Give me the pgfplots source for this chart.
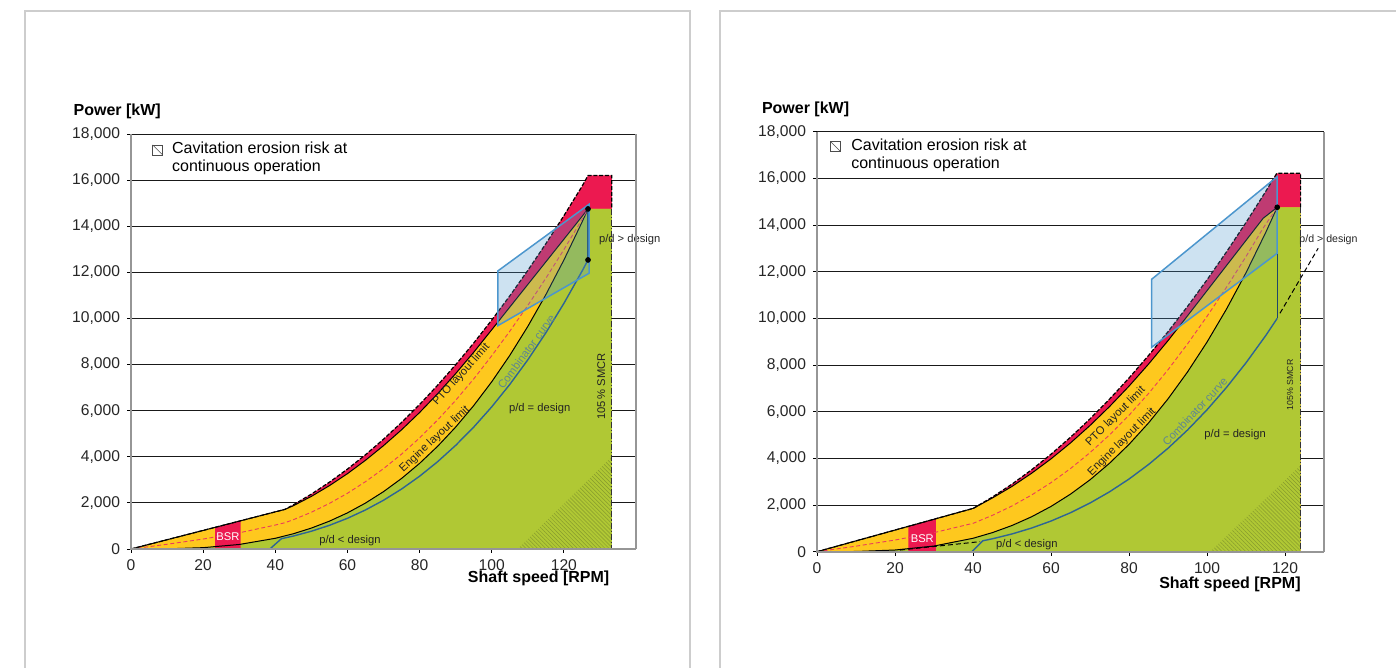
\documentclass[border=0pt]{standalone}
\usepackage{fontspec}
\setmainfont{Liberation Sans}
\usepackage{pgfplots}
\pgfplotsset{compat=1.18}
\usetikzlibrary{patterns.meta}

\definecolor{redc}{RGB}{236,25,80}
\definecolor{yellowc}{RGB}{254,200,30}
\definecolor{greenc}{RGB}{176,200,52}
\definecolor{boxblue}{RGB}{76,150,205}
\definecolor{combblue}{RGB}{45,100,150}
\definecolor{combtext}{RGB}{95,135,145}
\definecolor{hatchc}{RGB}{135,155,45}
\definecolor{framegray}{RGB}{205,205,205}
\definecolor{axisgray}{RGB}{150,150,150}
\definecolor{ptored}{RGB}{235,60,90}
\definecolor{txt}{RGB}{35,35,35}

\tikzset{lbl/.style={font=\fontsize{5.6}{6.5}\selectfont, text=txt}}

\pgfplotsset{
  layoutdiagram/.style={
    scale only axis, clip=false,
    ymin=0, ymax=18000,
    ytick={0,2000,...,18000},
    xtick={0,20,...,120},
    axis line style={draw=none},
    tick pos=left, tick align=outside,
    major tick length=2pt,
    tick style={black, line width=0.45pt},
    ymajorgrids,
    major grid style={black!90, line width=0.45pt},
    scaled y ticks=false,
    /pgf/number format/.cd, 1000 sep={,}, assume math mode=true,
    /pgfplots/.cd,
    tick label style={font=\fontsize{7.8}{9}\selectfont, text=black!85},
  },
  area/.style={draw=none, fill=#1},
  limitline/.style={black, line width=0.5pt},
  topline/.style={black, line width=0.6pt, dash pattern=on 2pt off 0.9pt},
  ptoline/.style={ptored, line width=0.45pt, dash pattern=on 2pt off 1.3pt},
  combline/.style={combblue, line width=0.7pt},
  hatch/.style={draw=none, pattern={Lines[angle=-45,distance=1.4pt,line width=0.25pt]}, pattern color=hatchc},
}

\begin{document}
\begin{tikzpicture}
\path[use as bounding box] (0,0) rectangle (698pt,334pt);
% panel frames
\draw[framegray, line width=1pt] (12.5pt,0) -- (12.5pt,328.5pt) -- (345pt,328.5pt) -- (345pt,0);
\draw[framegray, line width=1pt] (360pt,0) -- (360pt,328.5pt) -- (698pt,328.5pt);

% ---------------- left diagram ----------------
\begin{axis}[layoutdiagram, at={(65.5pt,59.5pt)}, anchor=south west,
  width=252.5pt, height=207.5pt, xmin=0, xmax=140]
% light running margin (red)
\addplot[area=redc] coordinates {(0,0) (42.7,1720) (45,1916) (50,2381) (55,2897) (60,3466) (65,4087) (70,4762) (75,5489) (80,6269) (85,7103) (90,7991) (95,8932) (100,9928) (105,10977) (110,12081) (115,13239) (120,14454) (125,15721) (126.7,16200) (133.3,16200) (133.3,0)} -- cycle;
% engine layout area (yellow)
\addplot[area=yellowc] coordinates {(0,0) (42.7,1720) (45,1876) (50,2281) (55,2747) (60,3266) (65,3847) (70,4482) (75,5169) (80,5919) (85,6733) (90,7606) (95,8532) (100,9508) (126.7,14750) (133.3,14750) (133.3,0)} -- cycle;
% propeller area (green)
\addplot[area=greenc] coordinates {(0,0) (10,7) (20,58) (30,196) (40,464) (45,661) (50,907) (55,1207) (60,1566) (65,1992) (70,2487) (75,3059) (80,3713) (85,4454) (90,5287) (95,6218) (100,7252) (105,8395) (110,9652) (115,11030) (120,12532) (125,14164) (126.7,14750) (133.3,14750) (133.3,0)} -- cycle;
% cavitation erosion risk
\addplot[hatch] coordinates {(107.2,0) (133.3,0) (133.3,4000)} -- cycle;
% barred speed range
\addplot[area=redc] coordinates {(23.3,0) (23.3,938) (30.4,1225) (30.4,0)} -- cycle;
% limit lines
\addplot[limitline] coordinates {(0,0) (42.7,1720) (45,1876) (50,2281) (55,2747) (60,3266) (65,3847) (70,4482) (75,5169) (80,5919) (85,6733) (90,7606) (95,8532) (100,9508) (126.7,14750)};
\addplot[limitline] coordinates {(0,0) (10,7) (20,58) (30,196) (40,464) (45,661) (50,907) (55,1207) (60,1566) (65,1992) (70,2487) (75,3059) (80,3713) (85,4454) (90,5287) (95,6218) (100,7252) (105,8395) (110,9652) (115,11030) (120,12532) (125,14164) (126.7,14750)};
\addplot[ptoline] coordinates {(0,0) (10,205) (20,432) (30,702) (40,1038) (42.7,1142) (45,1269) (50,1594) (55,1977) (60,2416) (65,2920) (70,3485) (75,4114) (80,4816) (85,5594) (90,6447) (95,7375) (100,8380) (105,9443) (110,10562) (115,11742) (120,12983) (125,14290) (126.7,14750)};
\addplot[combline] coordinates {(38.5,0) (41.7,447) (45,562) (50,771) (55,1026) (60,1331) (65,1693) (70,2114) (75,2600) (80,3156) (85,3786) (90,4494) (95,5285) (100,6164) (105,7136) (110,8204) (115,9375) (120,10651) (125,12039) (126.7,12537)};
\addplot[combblue!70!black, line width=0.7pt] coordinates {(126.7,12537) (126.7,14750)};
\addplot[topline] coordinates {(0,0) (42.7,1720) (45,1916) (50,2381) (55,2897) (60,3466) (65,4087) (70,4762) (75,5489) (80,6269) (85,7103) (90,7991) (95,8932) (100,9928) (105,10977) (110,12081) (115,13239) (120,14454) (125,15721) (126.7,16200) (133.3,16200) (133.3,14750)};
\addplot[black!80, line width=0.5pt, dash pattern=on 3pt off 1pt on 0.6pt off 1pt] coordinates {(133.3,14750) (133.3,0)};
% propeller operating window
\addplot[draw=boxblue, line width=0.75pt, fill=boxblue, fill opacity=0.28] coordinates {(101.7,9687) (101.7,12060) (127,14952) (127,11960)} -- cycle;
\addplot[only marks, mark=*, mark size=1.2pt, black] coordinates {(126.7,14750) (126.7,12537)};
% labels
\node[lbl, text=white] at (axis cs:26.85,540) {BSR};
\node[lbl] at (axis cs:60.7,380) {p/d < design};
\node[lbl] at (axis cs:113.3,6100) {p/d = design};
\node[lbl, anchor=west] at (axis cs:127.8,13435) {p/d > design};
\node[lbl, rotate=90] at (axis cs:130.4,7040) {105\,\% SMCR};
\node[lbl, rotate=48] at (axis cs:91.6,7560) {PTO layout limit};
\node[lbl, rotate=43] at (axis cs:84.2,4760) {Engine layout limit};
\node[lbl, rotate=53.6, text=combtext] at (axis cs:109.6,8560) {Combinator curve};
% legend
\draw[black!70, line width=0.4pt] (axis cs:6,17092) rectangle (axis cs:8.8,17526);
\draw[black!70, line width=0.3pt] (axis cs:6,17526) -- (axis cs:8.8,17092);
\node[anchor=west, align=left, font=\fontsize{8}{9}\selectfont, inner sep=0pt] at (axis cs:11.3,16950) {Cavitation erosion risk at\\continuous operation};
% titles
\node[anchor=west, font=\fontsize{8}{9}\selectfont\bfseries, inner sep=0pt] at (axis cs:-16,18970) {Power [kW]};
\node[anchor=east, font=\fontsize{8}{9}\selectfont\bfseries, inner sep=0pt] at (axis cs:132.7,-1271) {Shaft speed [RPM]};
% frame lines
\draw[axisgray, line width=1pt] (axis cs:0,18000) -- (axis cs:0,0) -- (axis cs:140,0);
\draw[axisgray, line width=0.6pt] (axis cs:140,0) -- (axis cs:140,18000);
\end{axis}

% ---------------- right diagram ----------------
\begin{axis}[layoutdiagram, at={(408.5pt,58.15pt)}, anchor=south west,
  width=253.5pt, height=210pt, xmin=0, xmax=130]
\addplot[area=redc] coordinates {(0,0) (40.1,1860) (45,2345) (50,2897) (55,3508) (60,4178) (65,4906) (70,5693) (75,6539) (80,7444) (85,8408) (90,9430) (95,10511) (100,11653) (105,12851) (110,14109) (115,15427) (117.9,16218) (124,16218) (124,0)} -- cycle;
\addplot[area=yellowc] coordinates {(0,0) (40.1,1860) (45,2305) (50,2797) (55,3358) (60,3978) (65,4661) (70,5408) (75,6219) (80,7094) (85,8038) (90,9045) (94.4,9979) (114.4,14290) (118,14760) (124,14760) (124,0)} -- cycle;
\addplot[area=greenc] coordinates {(0,0) (10,9) (20,72) (30,243) (40,575) (45,819) (50,1123) (55,1495) (60,1940) (65,2467) (70,3081) (75,3790) (80,4599) (85,5517) (90,6549) (95,7702) (100,8983) (105,10399) (110,11956) (115,13662) (118,14760) (124,14760) (124,0)} -- cycle;
\addplot[hatch] coordinates {(100.8,0) (124,0) (124,3700)} -- cycle;
\addplot[area=redc] coordinates {(23.4,0) (23.4,1085) (30.5,1415) (30.5,0)} -- cycle;
\addplot[limitline] coordinates {(0,0) (40.1,1860) (45,2305) (50,2797) (55,3358) (60,3978) (65,4661) (70,5408) (75,6219) (80,7094) (85,8038) (90,9045) (94.4,9979) (114.4,14290) (118,14760)};
\addplot[limitline] coordinates {(0,0) (10,9) (20,72) (30,243) (40,575) (45,819) (50,1123) (55,1495) (60,1940) (65,2467) (70,3081) (75,3790) (80,4599) (85,5517) (90,6549) (95,7702) (100,8983) (105,10399) (110,11956) (115,13662) (118,14760)};
\addplot[ptoline] coordinates {(0,0) (10,237) (20,500) (30,817) (40.1,1220) (45,1562) (50,1960) (55,2427) (60,2959) (65,3564) (70,4245) (75,5005) (80,5847) (85,6778) (90,7797) (95,8905) (100,10085) (105,11332) (110,12649) (114.4,13870) (118,14760)};
\addplot[combline] coordinates {(39.7,0) (42.5,467) (45,554) (50,760) (55,1012) (60,1314) (65,1670) (70,2086) (75,2566) (80,3114) (85,3735) (90,4434) (95,5215) (100,6082) (105,7041) (110,8095) (115,9250) (118,10000)};
\addplot[combblue!70!black, line width=0.7pt] coordinates {(118,10000) (118,14760)};
\addplot[black, line width=0.5pt, dash pattern=on 2.5pt off 1.5pt] coordinates {(21.3,70) (41.8,430)};
\addplot[black, line width=0.5pt, dash pattern=on 2.5pt off 1.5pt] coordinates {(118.7,10217) (128.5,13003)};
\addplot[topline] coordinates {(0,0) (40.1,1860) (45,2345) (50,2897) (55,3508) (60,4178) (65,4906) (70,5693) (75,6539) (80,7444) (85,8408) (90,9430) (95,10511) (100,11653) (105,12851) (110,14109) (115,15427) (117.9,16218) (124,16218) (124,14760)};
\addplot[black!80, line width=0.5pt, dash pattern=on 3pt off 1pt on 0.6pt off 1pt] coordinates {(124,14760) (124,0)};
\addplot[draw=boxblue, line width=0.75pt, fill=boxblue, fill opacity=0.28] coordinates {(85.8,8760) (85.8,11674) (118,16073) (118,12790)} -- cycle;
\addplot[only marks, mark=*, mark size=1.2pt, black] coordinates {(118,14760)};
\node[lbl, text=white] at (axis cs:27,574) {BSR};
\node[lbl] at (axis cs:53.8,290) {p/d < design};
\node[lbl] at (axis cs:107.2,5000) {p/d = design};
\node[lbl, anchor=west, font=\fontsize{5.3}{6}\selectfont] at (axis cs:121.9,13360) {p/d > design};
\node[lbl, rotate=90, font=\fontsize{4.4}{5}\selectfont] at (axis cs:121.3,7145) {105\% SMCR};
\node[lbl, rotate=45] at (axis cs:76.6,5800) {PTO layout limit};
\node[lbl, rotate=45] at (axis cs:78.2,4700) {Engine layout limit};
\node[lbl, rotate=46.5, text=combtext] at (axis cs:96.9,6000) {Combinator curve};
\draw[black!70, line width=0.4pt] (axis cs:3.5,17174) rectangle (axis cs:5.9,17573);
\draw[black!70, line width=0.3pt] (axis cs:3.5,17573) -- (axis cs:5.9,17174);
\node[anchor=west, align=left, font=\fontsize{8}{9}\selectfont, inner sep=0pt] at (axis cs:8.7,17002) {Cavitation erosion risk at\\continuous operation};
\node[anchor=west, font=\fontsize{8}{9}\selectfont\bfseries, inner sep=0pt] at (axis cs:-14.2,18961) {Power [kW]};
\node[anchor=east, font=\fontsize{8}{9}\selectfont\bfseries, inner sep=0pt] at (axis cs:124.1,-1384) {Shaft speed [RPM]};
\draw[axisgray, line width=1pt] (axis cs:0,18000) -- (axis cs:0,0) -- (axis cs:130,0);
\draw[axisgray, line width=0.6pt] (axis cs:130,0) -- (axis cs:130,18000);
\end{axis}
\end{tikzpicture}
\end{document}
